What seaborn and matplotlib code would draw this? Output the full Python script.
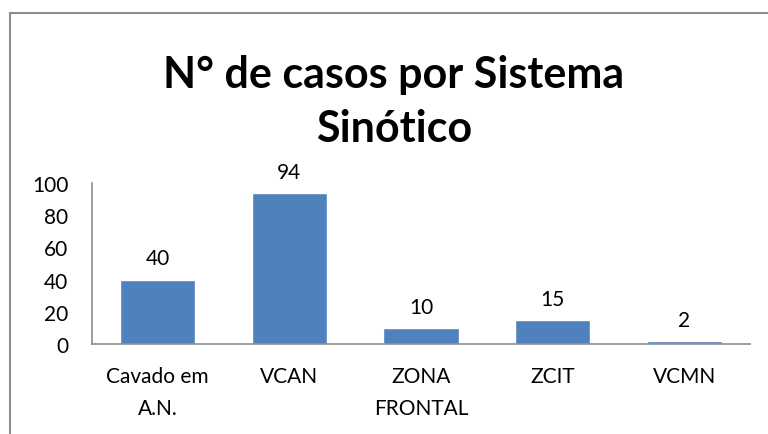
import matplotlib
matplotlib.use("Agg")
import matplotlib.pyplot as plt
import seaborn as sns
import pandas as pd
from matplotlib.patches import Rectangle

categories = ["Cavado em\nA.N.", "VCAN", "ZONA\nFRONTAL", "ZCIT", "VCMN"]
values = [40, 94, 10, 15, 2]
yticks = [0, 20, 40, 60, 80, 100]
title = "N° de casos por Sistema\nSinótico"

sns.set_theme(style="white")
plt.rcParams['font.family'] = ['Lato', 'DejaVu Sans']
plt.rcParams['text.color'] = 'black'
plt.rcParams['xtick.color'] = 'black'
plt.rcParams['ytick.color'] = 'black'

df = pd.DataFrame({"cat": categories, "val": values})

fig = plt.figure(figsize=(7.68, 4.35), dpi=100)
ax = fig.add_axes([92/768, 1-345/435, (750-92)/768, (345-184)/435])

sns.barplot(data=df, x="cat", y="val", color="#4F81BD", saturation=1, width=0.57, ax=ax)

ax.set_ylim(0, 100)
ax.set_xlim(-0.5, len(categories)-0.5)
ax.set_yticks(yticks)
ax.set_yticklabels([str(t) for t in yticks], fontsize=15)
ax.set_xticks(range(len(categories)))
ax.set_xticklabels(categories, fontsize=15, linespacing=1.75)
ax.tick_params(axis='x', pad=16, length=0)
ax.tick_params(axis='y', pad=17, length=0)
ax.set_xlabel("")
ax.set_ylabel("")
for s in ["top", "right"]:
    ax.spines[s].set_visible(False)
for s in ["left", "bottom"]:
    ax.spines[s].set_color("#8c8c8c")
    ax.spines[s].set_linewidth(1.2)

for i, v in enumerate(values):
    ax.annotate(str(v), (i, v), xytext=(0, 8), textcoords="offset points",
                ha="center", va="bottom", fontsize=15, color="black")

fig.text(394/768, 1-102/435, title, ha="center", va="center", fontsize=31,
         fontweight="bold", linespacing=1.45)

# outer border (chart area frame)
fig.patches.append(Rectangle((10/768, -0.05), 1.1, 1-14/435+0.05, transform=fig.transFigure,
                             fill=False, edgecolor="#8c8c8c", linewidth=1.5))

fig.savefig("out.png", dpi=100)
